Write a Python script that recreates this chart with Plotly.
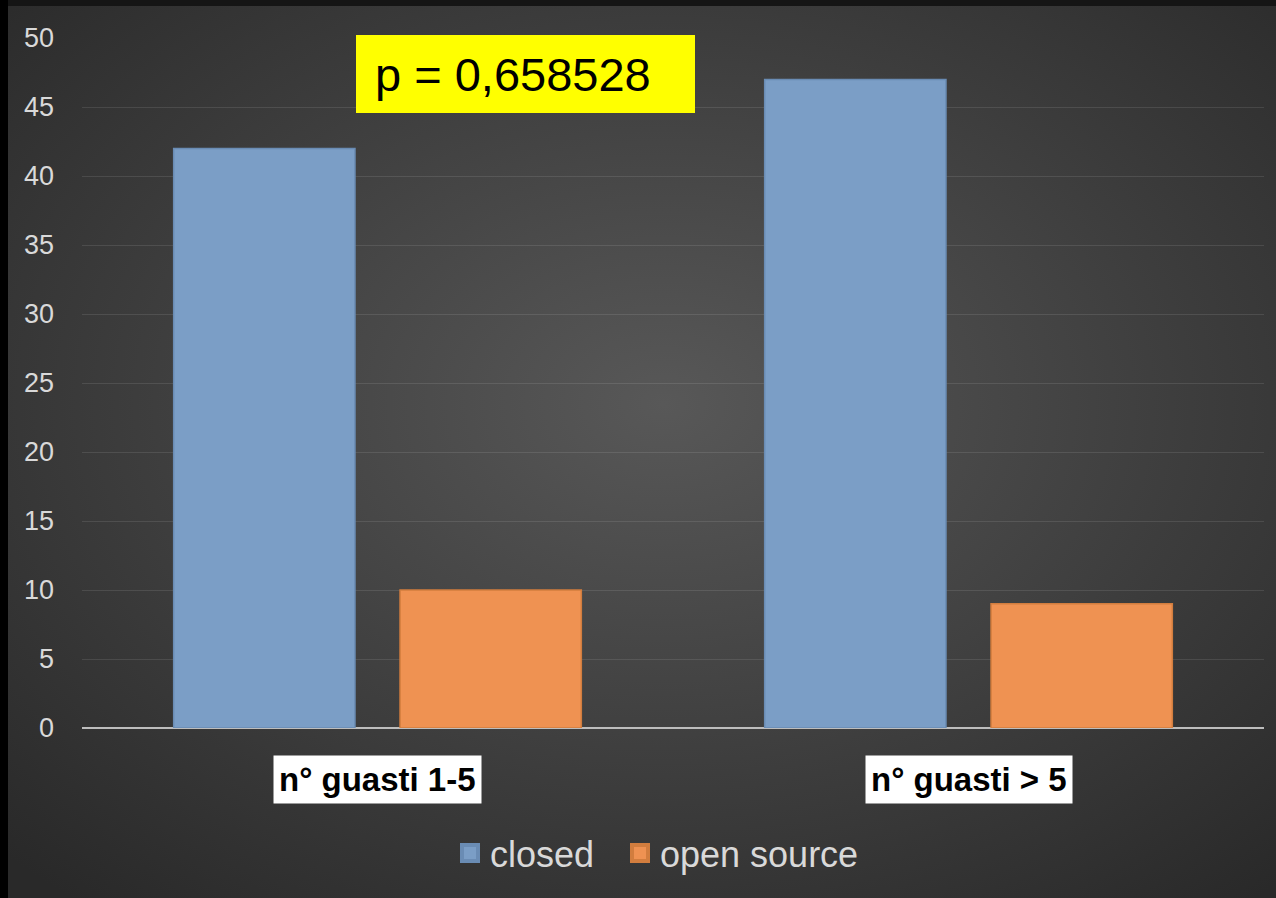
import base64
import plotly.graph_objects as go

# ---- data ----
categories = ["n° guasti 1-5", "n° guasti > 5"]
closed_values = [42, 47]
open_source_values = [10, 9]
series_names = ["closed", "open source"]
y_ticks = [0, 5, 10, 15, 20, 25, 30, 35, 40, 45, 50]
p_label = "p = 0,658528"

# ---- layout geometry (pixels) ----
W, H = 1276, 898
L, R, T, B = 82, 12, 38, 170
PW, PH = W - L - R, H - T - B

def px_x(px):
    return (px - L) / PW

def px_y(py):
    return (H - B - py) / PH

FONT = "Liberation Sans, Arial, sans-serif"

blue = "#7b9ec6"
blue_line = "#6a8cb4"
orange = "#ef9252"
orange_line = "#d27d3e"

svg = f'''<svg xmlns="http://www.w3.org/2000/svg" width="{W}" height="{H}" viewBox="0 0 {W} {H}">
<defs><radialGradient id="g" cx="0.52" cy="0.45" r="0.72">
<stop offset="0" stop-color="#585858"/><stop offset="1" stop-color="#292929"/>
</radialGradient></defs>
<rect x="0" y="0" width="{W}" height="{H}" fill="url(#g)"/>
<rect x="0" y="0" width="{W}" height="6" fill="#151515"/>
<rect x="0" y="0" width="8" height="{H}" fill="#000000"/>
</svg>'''
bg_uri = "data:image/svg+xml;base64," + base64.b64encode(svg.encode()).decode()

fig = go.Figure()
fig.add_trace(go.Bar(
    x=categories, y=closed_values, name=series_names[0],
    marker=dict(color=blue, line=dict(color=blue_line, width=1.5)),
    showlegend=False,
))
fig.add_trace(go.Bar(
    x=categories, y=open_source_values, name=series_names[1],
    marker=dict(color=orange, line=dict(color=orange_line, width=1.5)),
    showlegend=False,
))
# legend entries with square markers (one legend box per series)
for nm, c, lc, lg in [(series_names[0], blue, blue_line, "legend"),
                      (series_names[1], orange, orange_line, "legend2")]:
    fig.add_trace(go.Scatter(
        x=[None], y=[None], mode="markers", name=nm, legend=lg,
        marker=dict(symbol="square", size=16, color=c, line=dict(color=lc, width=4)),
    ))

annotations = []
for cat in categories:
    annotations.append(dict(
        x=cat, xref="x", y=px_y(779), yref="paper", yanchor="middle",
        text=f"<b>{cat}</b>", showarrow=False, bgcolor="white",
        font=dict(family=FONT, size=33, color="black"), borderpad=5,
    ))
annotations.append(dict(
    x=px_x(373), xref="paper", xanchor="left", y=px_y(74), yref="paper", yanchor="middle",
    text=p_label, showarrow=False,
    font=dict(family=FONT, size=47, color="black"),
))

legend_common = dict(orientation="h", xanchor="left", y=px_y(853), yanchor="middle",
                     font=dict(family=FONT, size=36, color="#d9d9d9"),
                     bgcolor="rgba(0,0,0,0)", itemsizing="trace")

fig.update_layout(
    width=W, height=H,
    margin=dict(l=L, r=R, t=T, b=B, pad=0),
    paper_bgcolor="#2e2e2e",
    plot_bgcolor="rgba(0,0,0,0)",
    barmode="group", bargap=0.234, bargroupgap=0.199,
    images=[dict(source=bg_uri, xref="paper", yref="paper",
                 x=px_x(0), y=px_y(0), sizex=W / PW, sizey=H / PH,
                 xanchor="left", yanchor="top", sizing="stretch", layer="below")],
    shapes=[dict(type="rect", xref="paper", yref="paper",
                 x0=px_x(356), x1=px_x(695), y0=px_y(113), y1=px_y(35),
                 fillcolor="#ffff00", line=dict(width=0), layer="above")],
    annotations=annotations,
    showlegend=True,
    legend=dict(x=px_x(450), **legend_common),
    legend2=dict(x=px_x(620), **legend_common),
    xaxis=dict(showticklabels=False, showgrid=False, zeroline=False, showline=False,
               ticks=""),
    yaxis=dict(range=[0, 50], tickvals=y_ticks, showgrid=True,
               gridcolor="rgba(255,255,255,0.1)", gridwidth=1,
               zeroline=True, zerolinecolor="#bdbdbd", zerolinewidth=2,
               showline=False, ticks="", ticklabelstandoff=27,
               tickfont=dict(family=FONT, size=27, color="#d9d9d9")),
)

fig.write_html("out.html")
